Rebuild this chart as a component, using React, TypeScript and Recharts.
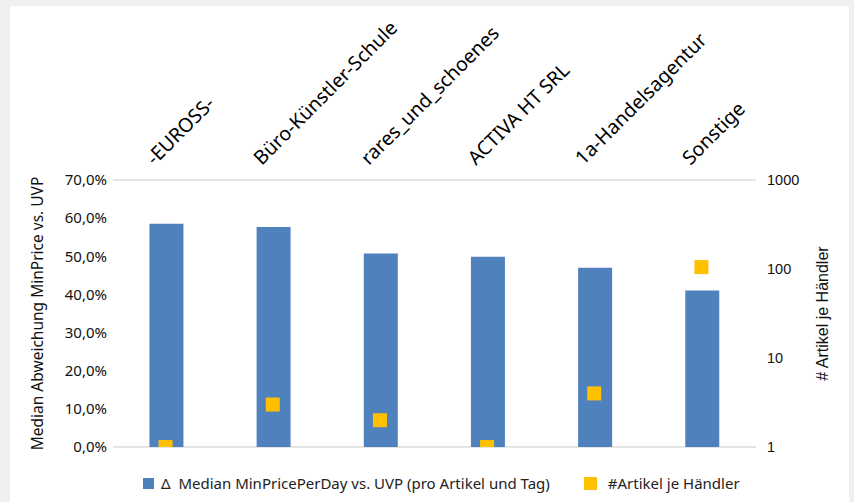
import React from 'react';
import { ComposedChart, Bar, Scatter, XAxis, YAxis, CartesianGrid, Legend } from 'recharts';

const categories = ['-EUROSS-', 'Büro-Künstler-Schule', 'rares_und_schoenes', 'ACTIVA HT SRL', '1a-Handelsagentur', 'Sonstige'];
const medianDeviation = [0.585, 0.577, 0.507, 0.499, 0.47, 0.41];
const articlesPerSeller = [1, 3, 2, 1, 4, 105];
const leftTicks = [0, 0.1, 0.2, 0.3, 0.4, 0.5, 0.6, 0.7];
const rightTicks = [1, 10, 100, 1000];

const barName = 'Δ  Median MinPricePerDay vs. UVP (pro Artikel und Tag)';
const scatterName = '#Artikel je Händler';

const data = categories.map((c, i) => ({ name: c, dev: medianDeviation[i], cnt: articlesPerSeller[i] }));

const FONT = '"Noto Sans", sans-serif';
const BLUE = '#4F81BD';
const YELLOW = '#FFC000';

const fmtPct = (v: number) => (v * 100).toFixed(1).replace('.', ',') + '%';

const TopTick = (props: any) => {
  const { x, y, payload } = props;
  const ax = x - 12;
  const ay = y - 6;
  return (
    <text
      x={ax}
      y={ay}
      transform={`rotate(-45, ${ax}, ${ay})`}
      textAnchor="start"
      fontFamily={FONT}
      fontSize={19.5}
      fill="#000"
    >
      {payload.value}
    </text>
  );
};

const Square = (props: any) => {
  const { cx, cy } = props;
  if (cx == null || cy == null) return null;
  return <rect x={cx - 8} y={cy - 7} width={14} height={14} fill={YELLOW} />;
};

const LegendContent = () => (
  <div style={{ height: 24, display: 'flex', alignItems: 'center', fontFamily: FONT, fontSize: 15, color: '#222' }}>
    <div style={{ marginLeft: 133, width: 11, height: 11, background: BLUE }} />
    <div style={{ marginLeft: 7, whiteSpace: 'pre' }}>{barName}</div>
    <div style={{ marginLeft: 34, width: 13, height: 13, background: YELLOW }} />
    <div style={{ marginLeft: 11 }}>{scatterName}</div>
  </div>
);

const RightLabel = (props: any) => {
  const { viewBox } = props;
  const x = viewBox.x + 66;
  const y = viewBox.y + viewBox.height / 2;
  return (
    <text x={x} y={y} transform={`rotate(-90, ${x}, ${y})`} textAnchor="middle" dominantBaseline="central"
      fontFamily='"Liberation Sans", Arial, sans-serif' fontSize={16} fill="#111">
      # Artikel je Händler
    </text>
  );
};

const LeftLabel = (props: any) => {
  const { viewBox } = props;
  const x = viewBox.x + 27;
  const y = viewBox.y + viewBox.height / 2;
  return (
    <text x={x} y={y} transform={`rotate(-90, ${x}, ${y})`} textAnchor="middle" dominantBaseline="central"
      fontFamily={FONT} fontSize={15.5} fill="#111">
      Median Abweichung MinPrice vs. UVP
    </text>
  );
};

export default function App() {
  return (
    <div style={{ position: 'absolute', left: 0, top: 0, width: 854, height: 502, background: '#f0f0f0', overflow: 'hidden' }}>
      <div style={{ position: 'absolute', left: 10, top: 6, width: 839, height: 496, background: '#fff' }}>
        <ComposedChart width={839} height={496} data={data} margin={{ top: 0, right: 0, left: 0, bottom: 31 }} barCategoryGap="34%">
          <CartesianGrid vertical={false} stroke="#dcdcdc" strokeWidth={1.5} />
          <XAxis dataKey="name" orientation="top" height={174} tick={<TopTick />} tickLine={false} axisLine={false} interval={0} />
          <YAxis yAxisId="left" orientation="left" width={103} domain={[0, 0.7]} ticks={leftTicks} tickFormatter={fmtPct}
            tickLine={false} axisLine={false} tickSize={0} tickMargin={6}
            tick={{ fontFamily: FONT, fontSize: 15, fill: '#111' }} label={<LeftLabel />} />
          <YAxis yAxisId="right" orientation="right" width={93} scale="log" domain={[1, 1000]} ticks={rightTicks}
            tickLine={false} axisLine={false} tickSize={0} tickMargin={11} allowDataOverflow
            tick={{ fontFamily: '"Liberation Sans", Arial, sans-serif', fontSize: 14.5, fill: '#111' }} label={<RightLabel />} />
          <Bar yAxisId="left" dataKey="dev" name={barName} fill={BLUE} isAnimationActive={false} />
          <Scatter yAxisId="right" dataKey="cnt" name={scatterName} fill={YELLOW} shape={<Square />} isAnimationActive={false} />
          <Legend verticalAlign="bottom" content={<LegendContent />} wrapperStyle={{ bottom: 7, left: 0, width: 839 }} />
        </ComposedChart>
      </div>
    </div>
  );
}
